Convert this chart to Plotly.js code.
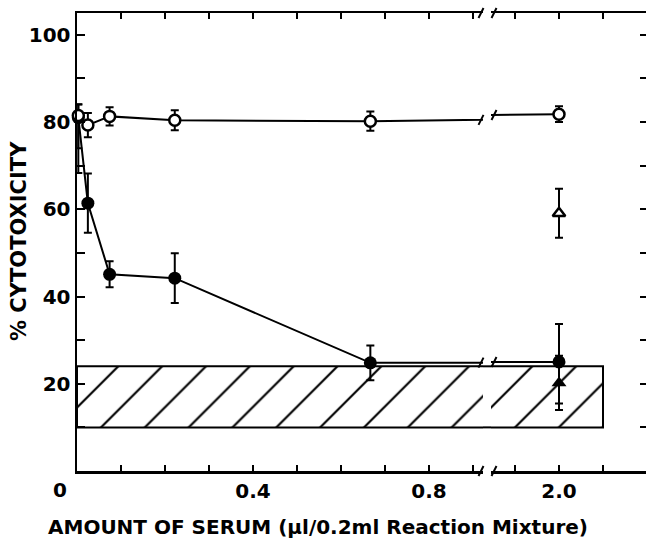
<!DOCTYPE html>
<html><head><meta charset="utf-8">
<script src="https://cdn.plot.ly/plotly-3.0.1.min.js"></script>
<style>html,body{margin:0;padding:0;background:#fff}#chart{width:646px;height:540px}</style>
</head><body><div id="chart"></div>
<script>
// ---- data ----
const serumAmount = [0.003, 0.0247, 0.0741, 0.2222, 0.6667, 2.0];
const openCircleY = [81.5, 79.3, 81.3, 80.4, 80.2, 81.8];
const openCircleErrPlus = [2.6, 2.8, 2.1, 2.3, 2.2, 1.8];
const openCircleErrMinus = [7.5, 2.8, 2.1, 2.3, 2.2, 1.8];
const filledCircleY = [81.0, 61.4, 45.1, 44.2, 24.8, 25.0];
const filledCircleErrPlus = [3.0, 6.8, 3.0, 5.7, 4.0, 8.7];
const filledCircleErrMinus = [12.7, 6.8, 3.0, 5.7, 4.0, 9.5];
const triangleX = [2.0];
const openTriangleY = [59.1];
const openTriangleErr = [5.6];
const filledTriangleY = [20.2];
const filledTriangleErr = [6.2];
const bandLow = 10, bandHigh = 24, bandXEnd = 2.1;
const yTickVals = [10, 20, 30, 40, 50, 60, 70, 80, 90, 100];
const yTickText = ['', '20', '', '40', '', '60', '', '80', '', '100'];
const xTickVals1 = [0, 0.1, 0.2, 0.3, 0.4, 0.5, 0.6, 0.7, 0.8, 0.9];
const xTickText1 = ['', '', '', '', '0.4', '', '', '', '0.8', ''];
const xTickVals2 = [1.9, 2.0, 2.1];
const xTickText2 = ['', '2.0', ''];
const xTitle = 'AMOUNT OF SERUM (\u03bcl/0.2ml Reaction Mixture)';
const yTitle = '% CYTOTOXICITY';

// ---- geometry ----
const W = 646, H = 540, ML = 77, MT = 13, MB = 69, MR = 0;
const plotW = W - ML - MR, plotH = H - MT - MB;
const pxPerUnit = 440;
const brk1 = 483, brk2 = 491;          // pixel ends of the two x segments
const x2Ref = 2.0, x2RefPx = 559;
const d1 = (brk1 - ML) / plotW, d2 = (brk2 - ML) / plotW;
const range1 = [0, (brk1 - ML) / pxPerUnit];
const range2 = [x2Ref - (x2RefPx - brk2) / pxPerUnit, x2Ref + (W - MR - x2RefPx) / pxPerUnit];

const FONT = {family: 'DejaVu Sans', size: 20, color: '#000', weight: 'bold'};
const BLACK = '#000';

function band(xa, ya) {
  return {x: [0, bandXEnd, bandXEnd, 0, 0], y: [bandLow, bandLow, bandHigh, bandHigh, bandLow],
    xaxis: xa, yaxis: ya, mode: 'lines', fill: 'toself', fillcolor: 'white',
    fillpattern: {shape: '/', size: 31, solidity: 0.07, fgcolor: BLACK, bgcolor: 'white'},
    line: {color: BLACK, width: 2}, showlegend: false, hoverinfo: 'skip'};
}
function filled(xa, ya) {
  return {x: serumAmount, y: filledCircleY, xaxis: xa, yaxis: ya, mode: 'lines+markers',
    line: {color: BLACK, width: 2}, marker: {symbol: 'circle', size: 13, color: BLACK},
    error_y: {type: 'data', symmetric: false, array: filledCircleErrPlus, arrayminus: filledCircleErrMinus,
      color: BLACK, thickness: 2, width: 4}, cliponaxis: false, showlegend: false};
}
function open(xa, ya) {
  return {x: serumAmount, y: openCircleY, xaxis: xa, yaxis: ya, mode: 'lines+markers',
    line: {color: BLACK, width: 2}, marker: {symbol: 'circle', size: 11, color: 'white', line: {color: BLACK, width: 2.5}},
    error_y: {type: 'data', symmetric: false, array: openCircleErrPlus, arrayminus: openCircleErrMinus,
      color: BLACK, thickness: 2, width: 4}, cliponaxis: false, showlegend: false};
}

const traces = [
  band('x', 'y'), band('x2', 'y2'),
  filled('x', 'y'), filled('x2', 'y2'),
  open('x', 'y'), open('x2', 'y2'),
  {x: triangleX, y: filledTriangleY, xaxis: 'x2', yaxis: 'y2', mode: 'markers',
    marker: {symbol: 'triangle-up', size: 13, color: BLACK},
    error_y: {type: 'data', array: filledTriangleErr, color: BLACK, thickness: 2, width: 4}, showlegend: false},
  {x: triangleX, y: openTriangleY, xaxis: 'x2', yaxis: 'y2', mode: 'markers',
    marker: {symbol: 'triangle-up', size: 11, color: 'white', line: {color: BLACK, width: 2.5}},
    error_y: {type: 'data', array: openTriangleErr, color: BLACK, thickness: 2, width: 4}, showlegend: false}
];

// break marks
function lineYAt(xs, ys, x) {
  const i = xs.length - 2;
  return ys[i] + (ys[i + 1] - ys[i]) * (x - xs[i]) / (xs[i + 1] - xs[i]);
}
const shapes = [];
function mark(px, yref, yval) {
  shapes.push({type: 'line', layer: 'above', xref: 'paper', xsizemode: 'pixel', xanchor: (px - ML) / plotW,
    x0: -2.5, x1: 2.5, yref: yref, ysizemode: 'pixel', yanchor: yval, y0: -5, y1: 5,
    line: {color: BLACK, width: 2}});
}
[0, 1].forEach(p => { mark(brk1 - 2, 'paper', p); mark(brk2 + 3, 'paper', p); });
mark(brk1 - 2, 'y', lineYAt(serumAmount, openCircleY, range1[1]));
mark(brk2 + 3, 'y', lineYAt(serumAmount, openCircleY, range2[0]));
mark(brk1 - 2, 'y', lineYAt(serumAmount, filledCircleY, range1[1]));
mark(brk2 + 3, 'y', lineYAt(serumAmount, filledCircleY, range2[0]));
// the hatched band is continuous across the axis break
[bandLow, bandHigh].forEach(v => shapes.push({type: 'line', layer: 'below', xref: 'paper', yref: 'y',
  x0: d1, x1: d2, y0: v, y1: v, line: {color: BLACK, width: 2}}));

const xCommon = {showline: true, linecolor: BLACK, linewidth: 2.5, mirror: 'ticks', ticks: 'inside',
  ticklen: 6, tickwidth: 2, tickcolor: BLACK, tickfont: FONT, showgrid: false, zeroline: false, tickmode: 'array'};

const layout = {
  width: W, height: H, margin: {l: ML, r: MR, t: MT, b: MB, pad: 0},
  paper_bgcolor: 'white', plot_bgcolor: 'rgba(0,0,0,0)', showlegend: false,
  xaxis: Object.assign({}, xCommon, {domain: [0, d1], range: range1, anchor: 'y',
    tickvals: xTickVals1, ticktext: xTickText1}),
  xaxis2: Object.assign({}, xCommon, {domain: [d2, 1], range: range2, anchor: 'y2',
    tickvals: xTickVals2, ticktext: xTickText2}),
  yaxis: {domain: [0, 1], range: [0, 105], anchor: 'x', showline: true, linecolor: BLACK, linewidth: 2.5,
    ticks: 'inside', ticklen: 8, tickwidth: 2, tickcolor: BLACK, tickmode: 'array',
    tickvals: yTickVals, ticktext: yTickText, tickfont: FONT, showgrid: false, zeroline: false},
  yaxis2: {domain: [0, 1], range: [0, 105], matches: 'y', anchor: 'x2', side: 'right', showline: false,
    ticks: 'inside', ticklen: 6, tickwidth: 2, tickcolor: BLACK, tickmode: 'array', tickvals: yTickVals,
    showticklabels: false, showgrid: false, zeroline: false},
  shapes: shapes,
  annotations: [
    {text: '0', xref: 'paper', yref: 'paper', x: (60 - ML) / plotW, y: -(490 - (H - MB)) / plotH,
      xanchor: 'center', yanchor: 'middle', showarrow: false, font: FONT},
    {text: xTitle, xref: 'paper', yref: 'paper', x: (318 - ML) / plotW, y: -(527 - (H - MB)) / plotH,
      xanchor: 'center', yanchor: 'middle', showarrow: false, font: FONT},
    {text: yTitle, xref: 'paper', yref: 'paper', x: (19 - ML) / plotW, y: ((H - MB) - 241) / plotH,
      xanchor: 'center', yanchor: 'middle', textangle: -90, showarrow: false,
      font: {family: 'DejaVu Sans', size: 21, color: '#000', weight: 'bold'}}
  ]
};

Plotly.newPlot('chart', traces, layout, {staticPlot: true, displayModeBar: false});
</script>
</body></html>
